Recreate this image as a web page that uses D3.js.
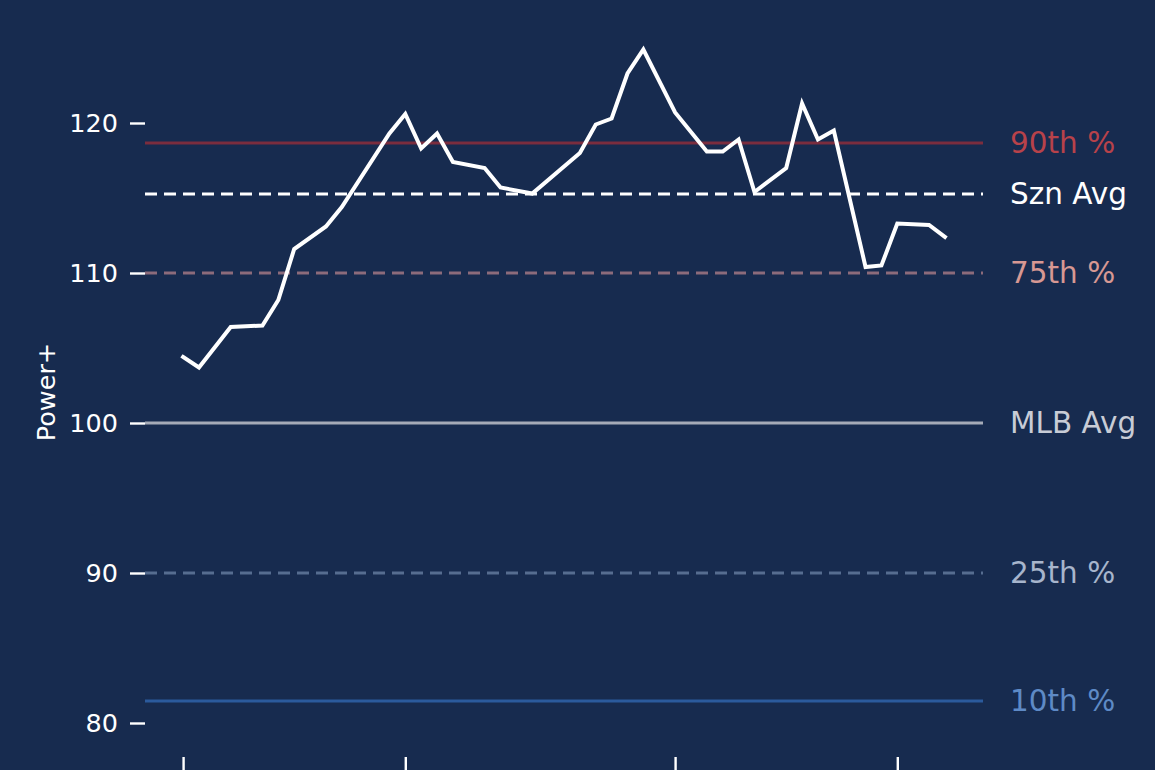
<!DOCTYPE html>
<html>
<head>
<meta charset="utf-8">
<script src="https://cdn.jsdelivr.net/npm/d3@7"></script>
<style>
  html, body { margin: 0; padding: 0; background: #172b4f; }
  svg { display: block; }
  text { font-family: "DejaVu Sans", sans-serif; }
</style>
</head>
<body>
<svg id="chart" width="1155" height="770"></svg>
<script>
// ---- data ----
const dates = ["2024-07-01","2024-07-02","2024-07-04","2024-07-06","2024-07-07","2024-07-08",
  "2024-07-10","2024-07-11","2024-07-14","2024-07-15","2024-07-16","2024-07-17","2024-07-18",
  "2024-07-20","2024-07-21","2024-07-23","2024-07-26","2024-07-27","2024-07-28","2024-07-29",
  "2024-07-30","2024-08-01","2024-08-03","2024-08-04","2024-08-05","2024-08-06","2024-08-08",
  "2024-08-09","2024-08-10","2024-08-11","2024-08-13","2024-08-14","2024-08-15","2024-08-17",
  "2024-08-18"];
const powerPlus = [104.4,103.7,106.4,106.5,108.2,111.6,113.1,114.4,119.3,120.6,118.3,119.3,117.4,
  117.0,115.7,115.3,118.0,119.9,120.3,123.3,124.9,120.7,118.1,118.1,118.9,115.4,117.0,
  121.3,118.9,119.5,110.4,110.5,113.3,113.2,112.4];

const refNames  = ["90th %","Szn Avg","75th %","MLB Avg","25th %","10th %"];
const refValues = [118.67, 115.27, 110.0, 100.0, 90.0, 81.47];

const yTicks = [80, 90, 100, 110, 120];
const xTicks = ["2024-07-01","2024-07-15","2024-08-01","2024-08-15"];
const yLabel = "Power+";

// ---- styles ----
const refStyles = [
  {stroke: "#7b2d3e", dash: null,   label: "#b8424a", width: 3},
  {stroke: "#ffffff", dash: "12,7", label: "#ffffff", width: 3},
  {stroke: "#8c6b7b", dash: "12,7", label: "#d79893", width: 3},
  {stroke: "#a5abb8", dash: null,   label: "#c8ccd6", width: 3},
  {stroke: "#566d90", dash: "12,7", label: "#a7b5cc", width: 3},
  {stroke: "#2b5a9c", dash: null,   label: "#5e8ac6", width: 3}
];

const parse = d3.utcParse("%Y-%m-%d");
const pts = dates.map((d, i) => ({x: parse(d), y: powerPlus[i]}));

const svg = d3.select("#chart");
const W = 1155, H = 770;
svg.append("rect").attr("width", W).attr("height", H).attr("fill", "#172b4f");

// axes area (matplotlib-like 5% margins)
const left = 145, right = 983;
const x0 = parse(dates[0]), x1 = parse(dates[dates.length - 1]);
const span = x1 - x0;
const x = d3.scaleUtc()
  .domain([new Date(+x0 - span * 0.05), new Date(+x1 + span * 0.05)])
  .range([left, right]);

const y = d3.scaleLinear().domain([80, 120]).range([723, 123]);

// y axis
const yAxis = svg.append("g")
  .attr("transform", `translate(${left},0)`)
  .call(d3.axisLeft(y).tickValues(yTicks).tickSize(15).tickPadding(12).tickFormat(d3.format("d")));
yAxis.select(".domain").remove();
yAxis.selectAll("line").attr("stroke", "#ffffff").attr("stroke-width", 2.4);
yAxis.selectAll("text").attr("fill", "#ffffff").attr("font-size", 25.5)
  .style("font-family", "DejaVu Sans");

// x axis (offset below; tick labels fall outside the picture, as in the reference)
const xAxis = svg.append("g")
  .attr("transform", `translate(0,757)`)
  .call(d3.axisBottom(x).tickValues(xTicks.map(parse)).tickSize(15).tickFormat(""));
xAxis.select(".domain").remove();
xAxis.selectAll("line").attr("stroke", "#ffffff").attr("stroke-width", 2.4);

// y label
svg.append("text")
  .attr("transform", `translate(55,392) rotate(-90)`)
  .attr("text-anchor", "middle")
  .attr("fill", "#ffffff")
  .attr("font-size", 25.5)
  .text(yLabel);

// reference lines
refValues.forEach((v, i) => {
  const s = refStyles[i];
  svg.append("line")
    .attr("x1", left).attr("x2", right)
    .attr("y1", y(v)).attr("y2", y(v))
    .attr("stroke", s.stroke)
    .attr("stroke-width", s.width)
    .attr("stroke-dasharray", s.dash);
  svg.append("text")
    .attr("x", 1010).attr("y", y(v))
    .attr("dy", "0.35em")
    .attr("fill", s.label)
    .attr("font-size", 29.5)
    .text(refNames[i]);
});

// main line
const line = d3.line().x(d => x(d.x)).y(d => y(d.y));
svg.append("path")
  .datum(pts)
  .attr("d", line)
  .attr("fill", "none")
  .attr("stroke", "#ffffff")
  .attr("stroke-width", 4)
  .attr("stroke-linejoin", "miter")
  .attr("stroke-linecap", "square");
</script>
</body>
</html>
